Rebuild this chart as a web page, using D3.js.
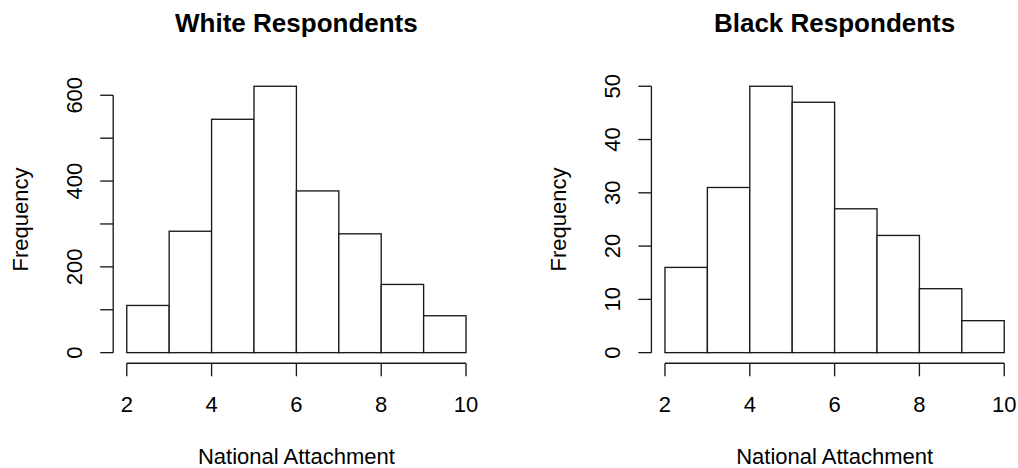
<!DOCTYPE html>
<html>
<head>
<meta charset="utf-8">
<script src="https://cdn.jsdelivr.net/npm/d3@7"></script>
<style>
  html, body { margin: 0; padding: 0; background: #fff; }
  svg { display: block; }
  text { font-family: "Liberation Sans", Arial, Helvetica, sans-serif; fill: #000; }
</style>
</head>
<body>
<svg id="chart" width="1018" height="468"></svg>
<script>
// ---- Data ----
const binEdges = [2, 3, 4, 5, 6, 7, 8, 9, 10];
const whiteCounts = [110, 283, 544, 621, 377, 277, 159, 86];
const blackCounts = [16, 31, 50, 47, 27, 22, 12, 6];
const xTickValues = [2, 4, 6, 8, 10];
const whiteYTicks = [0, 100, 200, 300, 400, 500, 600];
const whiteYLabels = [0, 200, 400, 600];
const blackYTicks = [0, 10, 20, 30, 40, 50];
const blackYLabels = [0, 10, 20, 30, 40, 50];
const titles = ["White Respondents", "Black Respondents"];
const xTitle = "National Attachment";
const yTitle = "Frequency";

// ---- Layout ----
const svg = d3.select("#chart");
const panels = [
  { left: 113.2, right: 479.6, counts: whiteCounts, yTicks: whiteYTicks, yLabels: whiteYLabels, title: titles[0] },
  { left: 651.4, right: 1017.8, counts: blackCounts, yTicks: blackYTicks, yLabels: blackYLabels, title: titles[1] }
];
const plotTop = 75.6, plotBottom = 363.3;
const tickLen = 13;
const lineColor = "#1a1a1a";
const lw = 1.35;

panels.forEach(p => {
  const g = svg.append("g");
  const xmin = binEdges[0], xmax = binEdges[binEdges.length - 1];
  const xpad = (xmax - xmin) * 0.04;
  const x = d3.scaleLinear().domain([xmin - xpad, xmax + xpad]).range([p.left, p.right]);
  const ymax = d3.max(p.counts);
  const y = d3.scaleLinear().domain([-0.04 * ymax, 1.04 * ymax]).range([plotBottom, plotTop]);

  // bars
  g.selectAll("rect.bar").data(p.counts).enter().append("rect")
    .attr("class", "bar")
    .attr("x", (d, i) => x(binEdges[i]))
    .attr("width", (d, i) => x(binEdges[i + 1]) - x(binEdges[i]))
    .attr("y", d => y(d))
    .attr("height", d => y(0) - y(d))
    .attr("fill", "#fff")
    .attr("stroke", lineColor)
    .attr("stroke-width", lw);

  // x axis
  const xa = g.append("g").attr("transform", `translate(0,${plotBottom})`);
  xa.append("line")
    .attr("x1", x(xTickValues[0])).attr("x2", x(xTickValues[xTickValues.length - 1]))
    .attr("y1", 0).attr("y2", 0)
    .attr("stroke", lineColor).attr("stroke-width", lw);
  xa.selectAll("line.tick").data(xTickValues).enter().append("line")
    .attr("class", "tick")
    .attr("x1", d => x(d)).attr("x2", d => x(d))
    .attr("y1", 0).attr("y2", tickLen)
    .attr("stroke", lineColor).attr("stroke-width", lw);
  xa.selectAll("text").data(xTickValues).enter().append("text")
    .attr("x", d => x(d)).attr("y", 48.4)
    .attr("text-anchor", "middle")
    .attr("font-size", 22)
    .text(d => d);

  // y axis
  const ya = g.append("g").attr("transform", `translate(${p.left},0)`);
  ya.append("line")
    .attr("x1", 0).attr("x2", 0)
    .attr("y1", y(p.yTicks[0])).attr("y2", y(p.yTicks[p.yTicks.length - 1]))
    .attr("stroke", lineColor).attr("stroke-width", lw);
  ya.selectAll("line.tick").data(p.yTicks).enter().append("line")
    .attr("class", "tick")
    .attr("x1", 0).attr("x2", -tickLen)
    .attr("y1", d => y(d)).attr("y2", d => y(d))
    .attr("stroke", lineColor).attr("stroke-width", lw);
  ya.selectAll("text").data(p.yLabels).enter().append("text")
    .attr("transform", d => `translate(-31.6,${y(d)}) rotate(-90)`)
    .attr("text-anchor", "middle")
    .attr("font-size", 22)
    .text(d => d);

  // titles
  const cx = (p.left + p.right) / 2;
  g.append("text")
    .attr("x", cx).attr("y", 31.7)
    .attr("text-anchor", "middle")
    .attr("font-size", 26)
    .attr("font-weight", "bold")
    .text(p.title);
  g.append("text")
    .attr("x", cx).attr("y", 464.3)
    .attr("text-anchor", "middle")
    .attr("font-size", 22)
    .text(xTitle);
  g.append("text")
    .attr("transform", `translate(${p.left - 85},${(plotTop + plotBottom) / 2}) rotate(-90)`)
    .attr("text-anchor", "middle")
    .attr("font-size", 22)
    .text(yTitle);
});
</script>
</body>
</html>
